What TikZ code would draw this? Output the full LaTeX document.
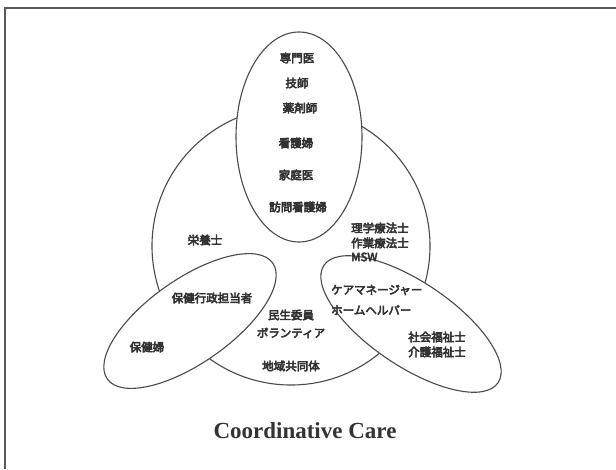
\documentclass[tikz,border=0pt]{standalone}
\usepackage{fontspec}
\setmainfont{Liberation Serif}
\newfontfamily\jp{Noto Sans CJK JP}[FakeBold=4.5]
\usetikzlibrary{shapes.geometric}
\definecolor{ink}{HTML}{333333}
\definecolor{edge}{HTML}{4A4A4A}
\tikzset{
  shape line/.style={draw=edge, fill=white, line width=1.1pt, inner sep=0pt, outer sep=0pt},
  lbl/.style={text=ink, font=\jp\fontsize{11.5}{12}\selectfont, inner sep=0pt},
  lbll/.style={lbl, anchor=west},
  frame/.style={draw=gray!70!black, line width=1.8pt}
}
\begin{document}
\begin{tikzpicture}[x=1pt,y=-1pt]
\useasboundingbox (0,0) rectangle (616,469);
% frame (left and top edges)
\coordinate (fbl) at (5,469);
\coordinate (ftl) at (5,8);
\coordinate (ftr) at (616,8);
\draw[frame] (fbl) -- (ftl) -- (ftr);

% shapes (ellipses lie on top of the circle, filled white)
\node[shape line, circle, minimum size=278pt] (big) at (291,246) {};
\node[shape line, ellipse, minimum width=126pt, minimum height=210pt] (top) at (299,137) {};
\node[shape line, ellipse, minimum width=202pt, minimum height=84pt, rotate=35] (left) at (190,321) {};
\node[shape line, ellipse, minimum width=210pt, minimum height=84pt, rotate=-34] (right) at (411,324) {};

% labels in top ellipse
\node[lbl] (t1) at (297,58) {専門医};
\node[lbl] (t2) at (297,83) {技師};
\node[lbl] (t3) at (300,108) {薬剤師};
\node[lbl] (t4) at (296,143) {看護婦};
\node[lbl] (t5) at (296,175) {家庭医};
\node[lbl] (t6) at (298,207) {訪問看護婦};

% circle labels
\node[lbl] (c1) at (205,240) {栄養士};
\node[lbll] (c2) at (351,228) {理学療法士};
\node[lbll] (c3) at (351,243) {作業療法士};
\node[lbll] (c4) at (351,257) {MSW};
\node[lbl] (c5) at (291,315) {民生委員};
\node[lbl] (c6) at (291,333) {ボランティア};
\node[lbl] (c7) at (291,366) {地域共同体};

% left ellipse labels
\node[lbl] (l1) at (212,298) {保健行政担当者};
\node[lbl] (l2) at (147,347) {保健婦};

% right ellipse labels
\node[lbll] (r1) at (331,290) {ケアマネージャー};
\node[lbll] (r2) at (331,310) {ホームヘルパー};
\node[lbl] (r3) at (437,337) {社会福祉士};
\node[lbl] (r4) at (437,352) {介護福祉士};

% title
\node[text=ink, font=\bfseries\fontsize{23}{26}\selectfont] (title) at (305,431) {Coordinative Care};
\end{tikzpicture}
\end{document}
